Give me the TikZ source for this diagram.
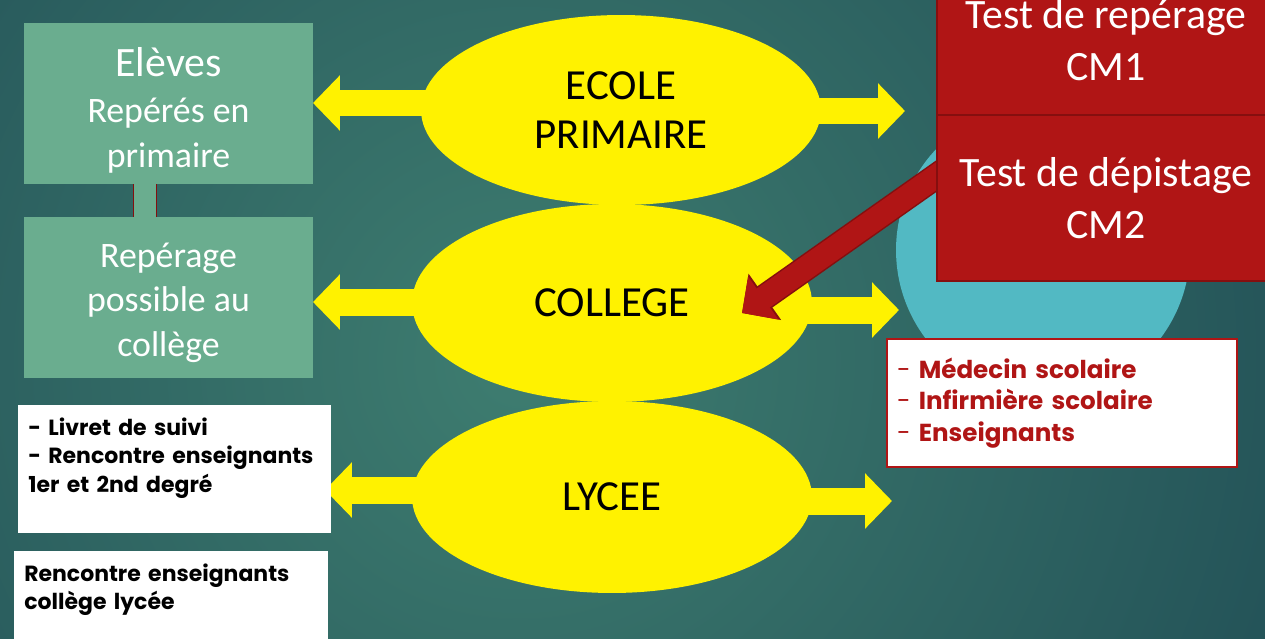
\documentclass[tikz,border=0pt]{standalone}
\usepackage{fontspec}
\setmainfont{Carlito}
\newfontfamily\gothic{Poppins}
\usetikzlibrary{arrows.meta,shapes.geometric}
\definecolor{bgdark}{HTML}{143A4A}
\definecolor{bglight}{HTML}{3E7D70}
\definecolor{boxgreen}{HTML}{6AAD8F}
\definecolor{boxred}{HTML}{B01515}
\definecolor{edgered}{HTML}{850F0F}
\definecolor{disc}{HTML}{52B9C3}
\pgfdeclarelayer{bg}
\pgfdeclarelayer{fg}
\pgfsetlayers{bg,main,fg}

\begin{document}
\begin{tikzpicture}[x=0.02cm, y=-0.02cm,
    greenbox/.style={rectangle, fill=boxgreen, text=white, minimum width=5.78cm,
      minimum height=3.22cm, align=center, font=\fontsize{20.4}{25.4}\selectfont},
    stage/.style={ellipse, fill=yellow, minimum width=8cm, inner sep=0pt,
      align=center, font=\fontsize{24.4}{28.3}\selectfont},
    redbox/.style={rectangle, fill=boxred, draw=edgered, line width=0.8pt, text=white,
      minimum width=6.76cm, align=center, font=\fontsize{23.8}{29.5}\selectfont},
    notebox/.style={rectangle, fill=white, anchor=north west, align=left,
      inner xsep=0.2cm, inner ysep=0.25cm, font=\gothic\bfseries\fontsize{12.5}{16.2}\selectfont},
    yarrow/.style={draw=yellow, line width=0.54cm, -{Triangle[width=1.08cm,length=0.54cm]}},
    redarrow/.style={draw=boxred, line width=0.46cm, -{Triangle[width=1.02cm,length=0.52cm]},
      preaction={draw=edgered, line width=0.52cm, -{Triangle[width=1.1cm,length=0.56cm]}}},
    linkbar/.style={draw=edgered, line width=0.02cm, double=boxgreen, double distance=0.44cm}]

  \path[use as bounding box, clip] (0,0) rectangle (1265,639);
  \begin{pgfonlayer}{bg}
    \shade[inner color=bglight, outer color=bgdark] (-760,-920) rectangle (1800,1640);
    \fill[disc] (1043,250) circle[radius=2.94cm];
  \end{pgfonlayer}

  % school levels
  \node[stage, minimum height=3.8cm] (ecole) at (621,110) {ECOLE\\PRIMAIRE};
  \node[stage, minimum height=3.96cm] (college) at (612,303) {COLLEGE};
  \node[stage, minimum height=3.84cm] (lycee) at (612,497) {LYCEE};

  % left side
  \node[greenbox] (eleves) at (168.5,103.5)
    {\rule{0pt}{24pt}{\fontsize{23.8}{25}\selectfont Elèves}\\[0.04cm]Repérés en\\primaire};
  \node[greenbox] (reperage) at (168.5,297.5) {\rule{0pt}{20pt}Repérage\\possible au\\collège};
  \draw[linkbar] ([xshift=-0.47cm]eleves.south) -- ([xshift=-0.47cm]reperage.north);

  \node[notebox, text width=5.86cm, minimum height=2.5cm] (suivi) at (18,405)
    {- Livret de suivi\\- Rencontre enseignants\\1er et 2nd degré\\\mbox{}};
  \node[notebox, text width=5.88cm] (meet) at (14,551)
    {Rencontre enseignants\\collège lycée\\\mbox{}\\\mbox{}};

  % right side
  \node[rectangle, draw=boxred, line width=0.03cm, fill=white, text width=6.6cm,
    minimum width=7cm, minimum height=2.56cm, inner xsep=0.2cm, align=left, text=boxred,
    font=\gothic\fontsize{14}{17.9}\selectfont] (staff) at (1062,403)
    {- \textbf{Médecin scolaire}\\- \textbf{Infirmière scolaire}\\- \textbf{Enseignants}};

  \coordinate (ltA) at (313,103);
  \coordinate (ltB) at (313,302);
  \coordinate (ltC) at (325,490);
  \coordinate (rtA) at (905,111);
  \coordinate (rtB) at (899,310);
  \coordinate (rtC) at (892,501);
  \begin{pgfonlayer}{bg}
    \draw[yarrow] (ecole.center |- ltA) -- (ltA);
    \draw[yarrow] (college.center |- ltB) -- (ltB);
    \draw[yarrow] (lycee.center |- ltC) -- (ltC);
    \draw[yarrow] (ecole.center |- rtA) -- (rtA);
    \draw[yarrow] (college.center |- rtB) -- (rtB);
    \draw[yarrow] (lycee.center |- rtC) -- (rtC);
  \end{pgfonlayer}

  \begin{pgfonlayer}{fg}
    \node[redbox, minimum height=3cm] (rep) at (1106,40) {Test de repérage\\CM1};
    \node[redbox, minimum height=3.32cm] (dep) at (1106,198) {Test de dépistage\\CM2};
  \end{pgfonlayer}
  \coordinate (hit) at (742,313);
  \draw[redarrow] ([xshift=0.6cm,yshift=0.86cm]dep.west) -- (hit);
\end{tikzpicture}
\end{document}
